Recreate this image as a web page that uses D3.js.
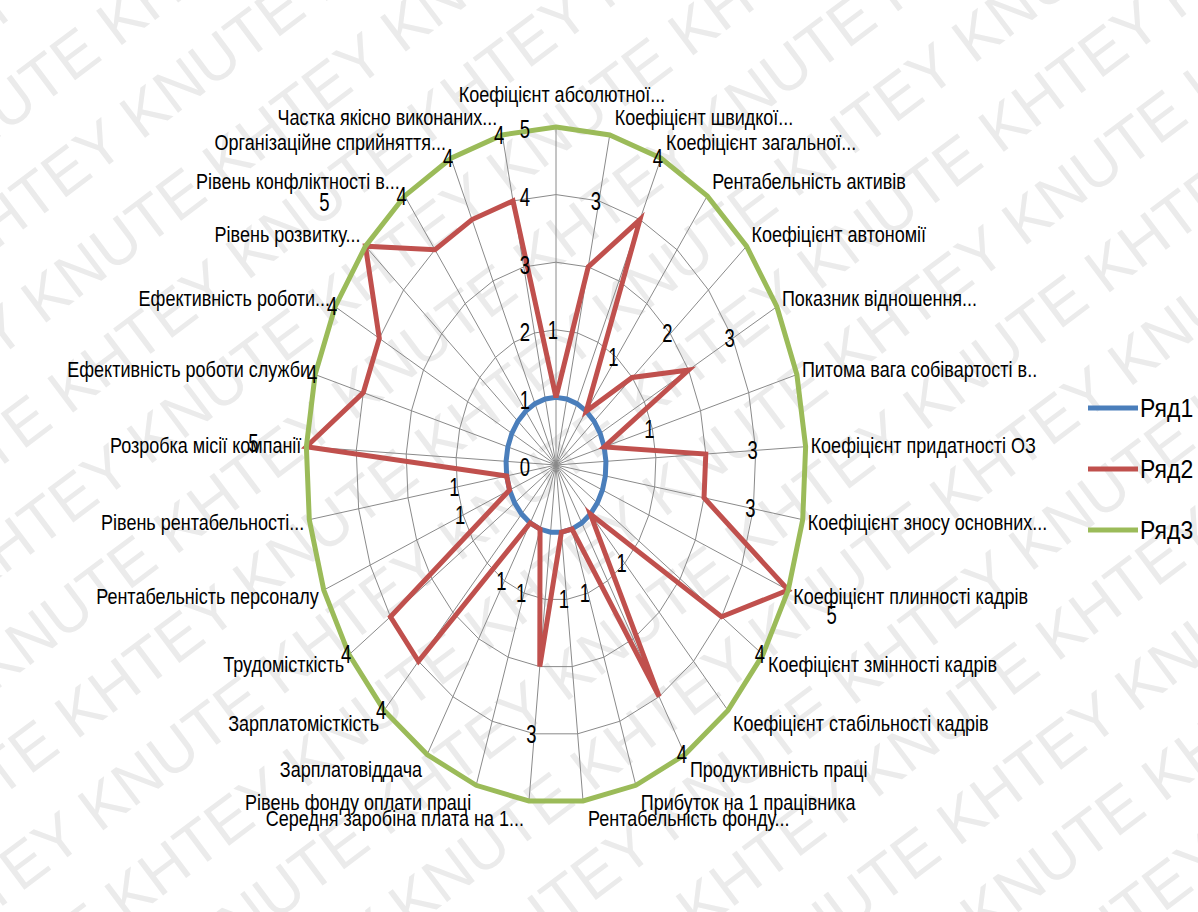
<!DOCTYPE html>
<html>
<head>
<meta charset="utf-8">
<script src="https://cdn.jsdelivr.net/npm/d3@7"></script>
<style>
  html, body { margin: 0; padding: 0; background: #fff; }
  svg { display: block; font-family: "Liberation Sans", Arial, sans-serif; }
</style>
</head>
<body>
<div id="chart"></div>
<script>
// radar chart, 29 indicators, three series (Excel-like look, stretched vertically)

const categories = [
  "Коефіцієнт абсолютної...", "Коефіцієнт швидкої...", "Коефіцієнт загальної...",
  "Рентабельність активів", "Коефіцієнт автономії", "Показник відношення...",
  "Питома вага собівартості в..", "Коефіцієнт придатності ОЗ", "Коефіцієнт зносу основних...",
  "Коефіцієнт плинності кадрів", "Коефіцієнт змінності кадрів", "Коефіцієнт стабільності кадрів",
  "Продуктивність праці", "Прибуток на 1 працівника", "Рентабельність фонду...",
  "Середня заробіна плата на 1...", "Рівень фонду оплати праці", "Зарплатовіддача",
  "Зарплатомісткість", "Трудомісткість", "Рентабельність персоналу",
  "Рівень рентабельності...", "Розробка місії компанії", "Ефективність роботи служби",
  "Ефективність роботи...", "Рівень розвитку...", "Рівень конфліктності в...",
  "Організаційне сприйняття...", "Частка  якісно виконаних..."
];

const series1 = [1,1,1,1,1,1,1,1,1,1,1,1,1,1,1,1,1,1,1,1,1,1,1,1,1,1,1,1,1];
const series2 = [1,3,4,1,2,3,1,3,3,5,4,1,4,1,1,3,1,1,4,4,1,1,5,4,4,5,4,4,4];
const series3 = [5,5,5,5,5,5,5,5,5,5,5,5,5,5,5,5,5,5,5,5,5,5,5,5,5,5,5,5,5];

const seriesNames = ["Ряд1", "Ряд2", "Ряд3"];
const seriesColors = ["#4a7ebb", "#c0504d", "#9bbb59"];
const radialTicks = [0, 1, 2, 3, 4, 5];

const width = 1198, height = 912;
const cx = 556, cy = 465, R = 250, ky = 1.352;

const svg = d3.select("#chart").append("svg")
  .attr("width", width)
  .attr("height", height);

svg.append("rect").attr("width", width).attr("height", height).attr("fill", "#fff");

// watermark
const wm = svg.append("g")
  .attr("transform", "rotate(-37 600 456)")
  .attr("fill", "#ebebeb")
  .attr("font-size", 62)
  .attr("font-family", "Liberation Sans, Arial, sans-serif");
for (let k = -14; k <= 14; k++) {
  wm.append("text")
    .attr("x", -700 + (k % 2) * 190)
    .attr("y", 456 + k * 88)
    .text("KHTEY KNUTE ".repeat(14));
}

const n = categories.length;
const r = d3.scaleLinear().domain([0, 5]).range([0, R]);
const angle = d3.scaleLinear().domain([0, n]).range([0, 2 * Math.PI]);

const g = svg.append("g")
  .attr("transform", "translate(" + cx + "," + cy + ") scale(1," + ky + ")");

const radarLine = d3.lineRadial()
  .angle((d, i) => angle(i))
  .radius(d => r(d))
  .curve(d3.curveLinearClosed);

// grid rings and spokes
g.append("g").selectAll("path")
  .data(radialTicks.slice(1))
  .enter().append("path")
  .attr("d", t => radarLine(categories.map(() => t)))
  .attr("fill", "none")
  .attr("stroke", "#8a8a8a")
  .attr("stroke-width", 1)
  .attr("vector-effect", "non-scaling-stroke");

g.append("g").selectAll("line")
  .data(categories)
  .enter().append("line")
  .attr("x1", 0).attr("y1", 0)
  .attr("x2", (d, i) => r(5) * Math.sin(angle(i)))
  .attr("y2", (d, i) => -r(5) * Math.cos(angle(i)))
  .attr("stroke", "#8a8a8a")
  .attr("stroke-width", 1)
  .attr("vector-effect", "non-scaling-stroke");

// series
[series1, series2, series3].forEach(function(s, k) {
  g.append("path")
    .attr("d", radarLine(s))
    .attr("fill", "none")
    .attr("stroke", seriesColors[k])
    .attr("stroke-width", 5)
    .attr("stroke-linejoin", "miter")
    .attr("vector-effect", "non-scaling-stroke");
});

// radial axis labels on the top spoke
g.append("g").selectAll("text")
  .data(radialTicks)
  .enter().append("text")
  .attr("x", -26)
  .attr("y", t => -r(t) + 2)
  .attr("dy", "0.35em")
  .attr("text-anchor", "end")
  .attr("font-size", 18.5)
  .text(t => t);

// data labels of Ряд2, one step outside each point
g.append("g").selectAll("text")
  .data(series2)
  .enter().append("text")
  .attr("x", (v, i) => r(v + 1) * Math.sin(angle(i)) - 3)
  .attr("y", (v, i) => -r(v + 1) * Math.cos(angle(i)))
  .attr("dy", "0.35em")
  .attr("text-anchor", "middle")
  .attr("font-size", 18.5)
  .text(v => v);

// category labels (placed in page pixels, stretched a bit like the original)
svg.append("g").selectAll("text")
  .data(categories)
  .enter().append("text")
  .attr("transform", function(d, i) {
    const s = Math.sin(angle(i)), c = Math.cos(angle(i));
    let x, y;
    if (Math.abs(s) < 0.05) {
      x = cx + 6;
      y = cy + (-r(5) - 24) * ky;
    } else {
      x = cx + r(5) * s + 5 * Math.sign(s);
      y = cy + (-r(5) * c - 13 * c) * ky;
    }
    return "translate(" + x + "," + y + ") scale(1,1.2)";
  })
  .attr("dy", "0.35em")
  .attr("text-anchor", function(d, i) {
    const s = Math.sin(angle(i));
    return Math.abs(s) < 0.05 ? "middle" : (s > 0 ? "start" : "end");
  })
  .attr("font-size", 18)
  .attr("fill", "#000")
  .text(d => d);

// legend
const legend = svg.append("g").selectAll("g")
  .data(seriesNames)
  .enter().append("g")
  .attr("transform", (d, i) => "translate(1088," + (408 + i * 61) + ")");

legend.append("line")
  .attr("x1", 0).attr("x2", 50)
  .attr("stroke", (d, i) => seriesColors[i])
  .attr("stroke-width", 5);

legend.append("text")
  .attr("x", 52)
  .attr("dy", "0.35em")
  .attr("font-size", 23)
  .attr("transform", "scale(1,1.15)")
  .text(d => d);
</script>
</body>
</html>
